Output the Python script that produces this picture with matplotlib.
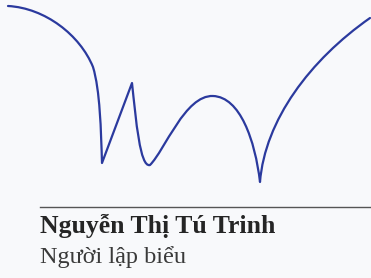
import matplotlib
matplotlib.use('Agg')
import matplotlib.pyplot as plt
from matplotlib.path import Path
from matplotlib.patches import PathPatch

# chữ ký: các điểm của nét (tọa độ pixel), mỗi đoạn cong là bezier bậc 3
sig_x = [8, 45, 80, 93, 100, 101, 102, 132, 136, 140, 150, 165, 185, 213, 240, 255, 260, 265, 310, 370]
sig_y = [6, 8, 35, 67, 90, 130, 163, 83, 120, 168, 165, 150, 95, 96, 97, 140, 182, 120, 60, 18]
sig_codes = [Path.MOVETO,
             Path.CURVE4, Path.CURVE4, Path.CURVE4,
             Path.CURVE4, Path.CURVE4, Path.CURVE4,
             Path.LINETO,
             Path.CURVE4, Path.CURVE4, Path.CURVE4,
             Path.CURVE4, Path.CURVE4, Path.CURVE4,
             Path.CURVE4, Path.CURVE4, Path.CURVE4,
             Path.CURVE4, Path.CURVE4, Path.CURVE4]

name = 'Nguyễn Thị Tú Trinh'
role = 'Người lập biểu'

fig = plt.figure(figsize=(3.71, 2.78), dpi=100, facecolor='#f8f9fb')
ax = fig.add_axes([0, 0, 1, 1])
ax.set_xlim(0, 371)
ax.set_ylim(278, 0)
ax.axis('off')

path = Path(list(zip(sig_x, sig_y)), sig_codes)
ax.add_patch(PathPatch(path, facecolor='none', edgecolor='#2b3a9e', lw=1.6,
                       capstyle='round', joinstyle='round'))

# đường kẻ ngang
ax.plot([40, 371], [206.5, 206.5], color='#555555', lw=1.0)

ax.text(40, 233, name, fontsize=18.5, fontweight='bold', family='Liberation Serif',
        color='#252525', va='baseline')
ax.text(40, 263, role, fontsize=17.5, family='Liberation Serif',
        color='#3a3a3a', va='baseline')

fig.savefig('out.png', dpi=100, facecolor=fig.get_facecolor())
